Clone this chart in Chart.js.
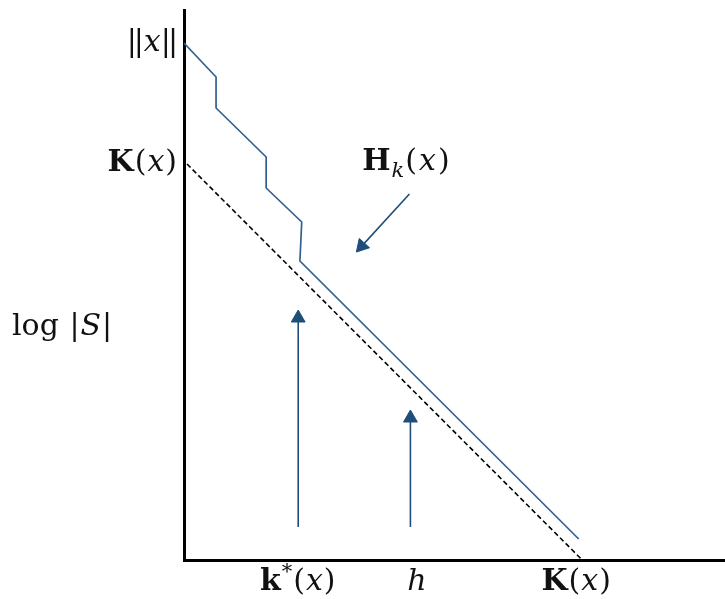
<!DOCTYPE html>
<html>
<head>
<meta charset="utf-8">
<script src="https://cdn.jsdelivr.net/npm/chart.js@4.4.1/dist/chart.umd.min.js"></script>
<style>
  html, body { margin: 0; padding: 0; background: #fff; }
  #wrap { width: 725px; height: 599px; }
</style>
</head>
<body>
<div id="wrap"><canvas id="chart" width="725" height="599"></canvas></div>
<script>
// Axis ranges (data units: origin at the axes corner)
const xRange = [0, 540];
const yRange = [0, 550];

// Upper bound H_k(x): staircase then straight descent
const hkX = [0, 32, 32, 82, 82, 117.5, 115.7, 394];
const hkY = [517, 483, 452, 403, 372, 338, 299, 21];

// Lower bound K(x): dashed straight line
const kX = [3, 397.5];
const kY = [396, 0];

// Arrows: start point, head centre, head rotation in degrees
const arrows = [
  { from: [114, 33], to: [114, 242], rot: 0 },
  { from: [226, 33], to: [226, 142], rot: 0 },
  { from: [225, 366], to: [177.4, 313.9], rot: 222 }
];

// Labels along the axes (third item = extra gap after the glyph)
const yLabels = [
  { value: 517, parts: [['|', 'n', -3], ['|', 'n', 0], ['x', 'i', 0], ['|', 'n', -3], ['|', 'n', 0]] },
  { value: 397, parts: [['K', 'b'], ['(', 'n'], ['x', 'i'], [')', 'n']] }
];
const xLabels = [
  { value: 114, parts: [['k', 'b'], ['*', 'sup'], ['(', 'n'], ['x', 'i'], [')', 'n']] },
  { value: 233, parts: [['h', 'i']] },
  { value: 392, parts: [['K', 'b'], ['(', 'n'], ['x', 'i'], [')', 'n']] }
];
const yTitle = [['log ', 'n'], ['|', 'n'], ['S', 'i'], ['|', 'n']];
const hkLabel = { x: 222, y: 390, parts: [['H', 'b'], ['k', 'sub'], ['(', 'n', 2], ['x', 'i', 2], [')', 'n']] };

const lineBlue = '#33608e';
const arrowBlue = '#1f4e79';
const FS = 30;
const FAM = '"DejaVu Serif", "Liberation Serif", serif';

function fontFor(style) {
  if (style === 'b') return 'bold ' + FS + 'px ' + FAM;
  if (style === 'i') return 'italic ' + FS + 'px ' + FAM;
  if (style === 'sub') return 'italic ' + Math.round(FS * 0.7) + 'px ' + FAM;
  if (style === 'sup') return Math.round(FS * 0.7) + 'px ' + FAM;
  return FS + 'px ' + FAM;
}

function gapOf(p) { return p[2] != null ? p[2] : 1; }

function measure(ctx, parts) {
  let w = 0;
  parts.forEach(p => { ctx.font = fontFor(p[1]); w += ctx.measureText(p[0]).width + gapOf(p); });
  return w;
}

// Draw mixed-style text; align: 'left' | 'center' | 'right'
function drawRich(ctx, parts, x, y, align) {
  const w = measure(ctx, parts);
  let cx = align === 'right' ? x - w : align === 'center' ? x - w / 2 : x;
  ctx.textBaseline = 'alphabetic';
  ctx.textAlign = 'left';
  parts.forEach(p => {
    ctx.font = fontFor(p[1]);
    let dy = 0;
    if (p[1] === 'sub') dy = 7;
    if (p[1] === 'sup') dy = -12;
    ctx.fillText(p[0], cx, y + dy);
    cx += ctx.measureText(p[0]).width + gapOf(p);
  });
}

const textPlugin = {
  id: 'mathText',
  afterDraw(chart) {
    const ctx = chart.ctx;
    const xs = chart.scales.x, ys = chart.scales.y;
    ctx.save();
    ctx.fillStyle = '#111';
    yLabels.forEach(l => drawRich(ctx, l.parts, xs.left - 6, ys.getPixelForValue(l.value) + 8, 'right'));
    xLabels.forEach(l => drawRich(ctx, l.parts, xs.getPixelForValue(l.value), ys.bottom + 30, 'center'));
    drawRich(ctx, yTitle, 12, ys.getPixelForValue(225), 'left');
    drawRich(ctx, hkLabel.parts, xs.getPixelForValue(hkLabel.x), ys.getPixelForValue(hkLabel.y), 'center');
    ctx.restore();
  }
};

const datasets = [
  {
    data: hkX.map((x, i) => ({ x, y: hkY[i] })),
    borderColor: lineBlue, borderWidth: 1.7, pointRadius: 0, tension: 0
  },
  {
    data: kX.map((x, i) => ({ x, y: kY[i] })),
    borderColor: '#000', borderWidth: 1.6, borderDash: [5, 3], pointRadius: 0
  }
];
arrows.forEach(a => {
  datasets.push({
    data: [{ x: a.from[0], y: a.from[1] }, { x: a.to[0], y: a.to[1] }],
    borderColor: arrowBlue, borderWidth: 1.6,
    pointStyle: 'triangle', pointRadius: [0, 8], pointRotation: [0, a.rot],
    pointBackgroundColor: arrowBlue, pointBorderColor: arrowBlue, pointBorderWidth: 1
  });
});

new Chart(document.getElementById('chart'), {
  type: 'line',
  data: { datasets },
  options: {
    responsive: false,
    animation: false,
    layout: { autoPadding: false, padding: { left: 184, right: 0, top: 10, bottom: 39 } },
    plugins: { legend: { display: false }, tooltip: { enabled: false } },
    scales: {
      x: {
        type: 'linear', min: xRange[0], max: xRange[1],
        ticks: { display: false },
        grid: { display: false, drawTicks: false },
        border: { display: true, color: '#000', width: 3 }
      },
      y: {
        type: 'linear', min: yRange[0], max: yRange[1],
        ticks: { display: false },
        grid: { display: false, drawTicks: false },
        border: { display: true, color: '#000', width: 3 }
      }
    }
  },
  plugins: [textPlugin]
});
</script>
</body>
</html>
